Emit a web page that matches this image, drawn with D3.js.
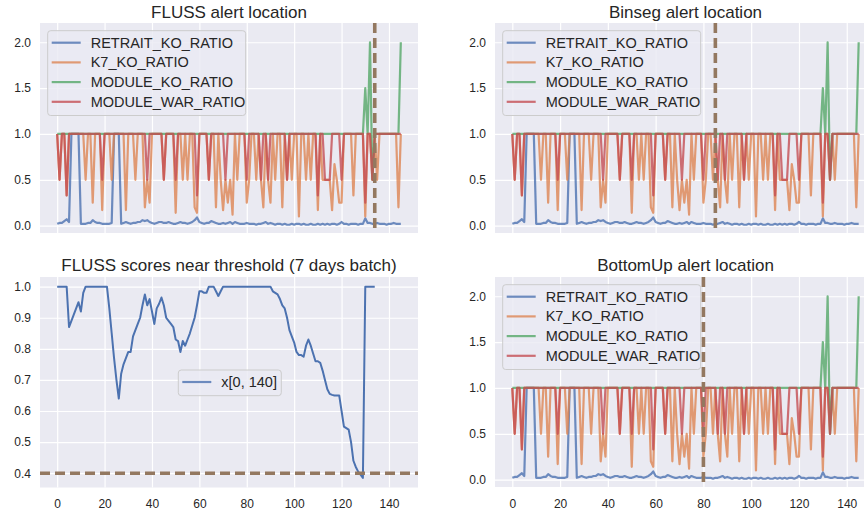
<!DOCTYPE html>
<html>
<head>
<meta charset="utf-8">
<script src="https://cdn.jsdelivr.net/npm/d3@7"></script>
<style>
  body { margin: 0; background: #fff; overflow: hidden; }
  text { font-family: "Liberation Sans", Arial, sans-serif; fill: #262626; }
</style>
</head>
<body>
<script>
// ratio series, one value per day (x = 0..145)
const retraitKo = [
  0.02, 0.03, 0.03, 0.05, 0.07, 0.04, 1.0, 1.0, 1.0, 1.0,
  0.02, 0.02, 0.02, 0.03, 0.03, 0.06, 0.04, 0.03, 0.03, 0.02,
  0.02, 0.02, 0.02, 0.03, 1.0, 1.0, 1.0, 0.02, 0.03, 0.04,
  0.03, 0.02, 0.03, 0.03, 0.04, 0.04, 0.06, 0.05, 0.06, 0.04,
  0.03, 0.02, 0.03, 0.04, 0.04, 0.03, 0.03, 0.04, 0.03, 0.02,
  0.02, 0.03, 0.04, 0.03, 0.03, 0.02, 0.03, 0.04, 0.06, 0.09,
  0.04, 0.03, 0.02, 0.03, 0.03, 0.05, 0.04, 0.03, 0.02, 0.02,
  0.03, 0.02, 0.03, 0.04, 0.02, 0.04, 0.03, 0.02, 0.02, 0.02,
  0.03, 0.02, 0.02, 0.02, 0.01, 0.02, 0.02, 0.03, 0.04, 0.02,
  0.03, 0.02, 0.01, 0.02, 0.02, 0.01, 0.02, 0.01, 0.01, 0.02,
  0.01, 0.02, 0.02, 0.01, 0.02, 0.01, 0.01, 0.02, 0.01, 0.01,
  0.02, 0.01, 0.02, 0.01, 0.02, 0.01, 0.02, 0.02, 0.01, 0.02,
  0.04, 0.02, 0.02, 0.01, 0.02, 0.02, 0.02, 0.01, 0.02, 0.02,
  0.08, 0.03, 0.03, 0.02, 0.02, 0.03, 0.02, 0.02, 0.02, 0.01,
  0.02, 0.02, 0.03, 0.02, 0.02, 0.02
];
const k7Ko = [
  1, 0.5, 1, 1, 0.33, 1, 1, 1, 1, 1,
  1, 1, 0.5, 1, 1, 0.25, 1, 1, 1, 0.17,
  1, 1, 1, 0.5, 1, 1, 1, 1, 1, 0.17,
  1, 1, 1, 0.5, 1, 1, 1, 0.2, 0.5, 0.25,
  1, 1, 1, 1, 1, 0.5, 1, 1, 1, 1,
  0.14, 1, 1, 0.5, 1, 0.5, 1, 1, 0.2, 0.14,
  1, 1, 1, 1, 0.5, 1, 1, 0.2, 1, 0.5,
  0.17, 0.5, 0.25, 0.5, 0.12, 1, 0.5, 1, 1, 1,
  0.25, 0.5, 1, 1, 0.5, 1, 0.5, 0.2, 1, 0.5,
  0.25, 1, 0.5, 1, 1, 0.2, 1, 0.5, 1, 0.5,
  1, 1, 0.1, 1, 1, 0.5, 1, 0.5, 1, 1,
  0.17, 1, 0.5, 0.5, 0.5, 0.5, 0.17, 0.67, 0.5, 0.25,
  0.25, 1, 1, 1, 1, 0.33, 1, 1, 1, 1,
  0.1, 1, 1, 0.5, 1, 0.5, 1, 1, 1, 1,
  1, 1, 1, 1, 0.2, 1
];
const moduleKo = [
  1, 1, 1, 1, 1, 1, 1, 1, 1, 1,
  1, 1, 1, 1, 1, 1, 1, 1, 1, 1,
  1, 1, 1, 1, 1, 1, 1, 1, 1, 1,
  1, 1, 1, 1, 1, 1, 1, 1, 1, 1,
  1, 1, 1, 1, 1, 1, 1, 1, 1, 1,
  1, 1, 1, 1, 1, 1, 1, 1, 1, 1,
  1, 1, 1, 1, 1, 1, 1, 1, 1, 1,
  1, 1, 1, 1, 1, 1, 1, 1, 1, 1,
  1, 1, 1, 1, 1, 1, 1, 1, 1, 1,
  1, 1, 1, 1, 1, 1, 1, 1, 1, 1,
  1, 1, 1, 1, 1, 1, 1, 1, 1, 1,
  1, 1, 1, 1, 1, 1, 1, 1, 1, 1,
  1, 1, 1, 1, 1, 1, 1, 1, 1, 1,
  1.5, 1, 2, 0.5, 1, 1, 1, 1, 1, 1,
  1, 1, 1, 1, 1, 2
];
const moduleWar = [
  1, 0.5, 1, 1, 0.33, 1, 1, 1, 1, 1,
  1, 1, 1, 1, 1, 1, 1, 1, 1, 0.5,
  1, 1, 1, 1, 1, 1, 1, 1, 1, 1,
  1, 1, 1, 1, 1, 1, 1, 1, 0.5, 1,
  1, 1, 1, 1, 1, 0.5, 1, 1, 1, 1,
  0.5, 1, 1, 1, 1, 1, 1, 1, 1, 0.33,
  1, 1, 1, 1, 0.5, 1, 1, 1, 1, 1,
  1, 0.5, 1, 1, 1, 1, 1, 1, 1, 1,
  0.5, 1, 1, 1, 1, 1, 0.5, 1, 1, 0.5,
  1, 1, 1, 1, 1, 1, 1, 0.5, 1, 1,
  1, 1, 1, 1, 1, 1, 1, 1, 1, 1,
  0.33, 1, 1, 0.5, 0.5, 0.5, 1, 1, 1, 1,
  0.5, 1, 1, 1, 1, 1, 1, 1, 1, 1,
  0.25, 1, 1, 0.5, 1, 1, 1, 1, 1, 1,
  1, 1, 1, 1, 1, 1
];

// FLUSS scores, x = 0..134
const flussScores = [
  1.0, 1.0, 1.0, 1.0, 1.0, 0.87, 0.89, 0.91, 0.93, 0.95,
  0.92, 0.98, 1.0, 1.0, 1.0, 1.0, 1.0, 1.0, 1.0, 1.0,
  1.0, 1.0, 0.93, 0.85, 0.77, 0.70, 0.64, 0.72, 0.75, 0.77,
  0.79, 0.79, 0.84, 0.86, 0.88, 0.90, 0.94, 0.975, 0.94, 0.96,
  0.92, 0.88, 0.93, 0.945, 0.965, 0.94, 0.90, 0.89, 0.88, 0.87,
  0.83, 0.825, 0.79, 0.825, 0.81, 0.83, 0.85, 0.875, 0.90, 0.94,
  0.985, 0.985, 0.98, 0.98, 1.0, 1.0, 1.0, 0.985, 0.97, 0.985,
  1.0, 1.0, 1.0, 1.0, 1.0, 1.0, 1.0, 1.0, 1.0, 1.0,
  1.0, 1.0, 1.0, 1.0, 1.0, 1.0, 1.0, 1.0, 1.0, 1.0,
  1.0, 0.985, 0.98, 0.975, 0.96, 0.94, 0.93, 0.90, 0.86, 0.84,
  0.82, 0.79, 0.78, 0.78, 0.775, 0.81, 0.83, 0.81, 0.785, 0.76,
  0.76, 0.755, 0.73, 0.70, 0.67, 0.655, 0.652, 0.65, 0.65, 0.65,
  0.60, 0.55, 0.545, 0.54, 0.50, 0.44, 0.42, 0.405, 0.395, 0.385,
  1.0, 1.0, 1.0, 1.0, 1.0
];

const seriesNames = ["RETRAIT_KO_RATIO", "K7_KO_RATIO", "MODULE_KO_RATIO", "MODULE_WAR_RATIO"];
const seriesValues = [retraitKo, k7Ko, moduleKo, moduleWar];
const seriesColors = ["#4c72b0", "#dd8452", "#55a868", "#c44e52"];
const scoreLabel = "x[0, 140]";

const flussAlert = 134;
const binsegAlert = 85;
const bottomUpAlert = 80;
const threshold = 0.4;

const xTicks = [0, 20, 40, 60, 80, 100, 120, 140];
const ratioTicks = [0, 0.5, 1.0, 1.5, 2.0];
const scoreTicks = [0.4, 0.5, 0.6, 0.7, 0.8, 0.9, 1.0];

const brown = "#937860";

let svg = d3.select("body").append("svg").attr("width", 864).attr("height", 514);

// one subplot: background, grid, tick labels, title
function panel(opt) {
  let g = svg.append("g").attr("transform", "translate(" + opt.left + "," + opt.top + ")");
  let x = d3.scaleLinear().domain([-7.25, 152.25]).range([0, opt.width]);
  let y = d3.scaleLinear().domain(opt.yDomain).range([opt.height, 0]);

  g.append("rect").attr("width", opt.width).attr("height", opt.height).attr("fill", "#eaeaf2");

  let gx = g.append("g").attr("transform", "translate(0," + opt.height + ")")
    .call(d3.axisBottom(x).tickValues(xTicks).tickSize(-opt.height).tickPadding(12)
      .tickFormat(opt.showX ? d3.format("d") : ""));
  let gy = g.append("g")
    .call(d3.axisLeft(y).tickValues(opt.yTicks).tickSize(-opt.width).tickPadding(9)
      .tickFormat(d3.format(".1f")));
  [gx, gy].forEach((a) => {
    a.select(".domain").remove();
    a.selectAll("line").attr("stroke", "#fff").attr("stroke-width", 1.2);
    a.selectAll("text").attr("font-size", 12).attr("fill", "#262626")
      .style("font-family", '"Liberation Sans", Arial, sans-serif');
  });

  svg.append("text").attr("x", opt.left + opt.width / 2).attr("y", opt.titleY)
    .attr("text-anchor", "middle").attr("font-size", 17).text(opt.title);

  let clipId = "clip" + Math.round(opt.left) + "_" + Math.round(opt.top);
  g.append("clipPath").attr("id", clipId).append("rect")
    .attr("width", opt.width).attr("height", opt.height);
  let plot = g.append("g").attr("clip-path", "url(#" + clipId + ")");
  return { g: g, plot: plot, x: x, y: y, w: opt.width, h: opt.height };
}

function legend(p, lx, ly, names, colors, rowH) {
  let lg = p.g.append("g").attr("transform", "translate(" + lx + "," + ly + ")");
  let boxW = names.length > 1 ? 198 : 103;
  let boxH = names.length * rowH + 6;
  lg.append("rect").attr("width", boxW).attr("height", boxH).attr("rx", 3)
    .attr("fill", "#eaeaf2").attr("fill-opacity", 0.8)
    .attr("stroke", "#cccccc").attr("stroke-width", 1);
  names.forEach((n, i) => {
    let cy = 12 + i * rowH;
    lg.append("line").attr("x1", 4).attr("x2", 33).attr("y1", cy).attr("y2", cy)
      .attr("stroke", colors[i]).attr("stroke-width", 2.2).attr("stroke-opacity", 0.8);
    lg.append("text").attr("x", 43).attr("y", cy + 5).attr("font-size", 14.5).text(n);
  });
}

function ratioPanel(left, top, width, title, titleY, alertX, showX) {
  let p = panel({ left: left, top: top, width: width, height: 210, yDomain: [-0.08, 2.21],
    yTicks: ratioTicks, showX: showX, title: title, titleY: titleY });
  let line = d3.line().x((d, i) => p.x(i)).y((d) => p.y(d));
  seriesValues.forEach((vals, k) => {
    p.plot.append("path").attr("d", line(vals)).attr("fill", "none")
      .attr("stroke", seriesColors[k]).attr("stroke-width", 2.2).attr("stroke-opacity", 0.8)
      .attr("stroke-linejoin", "round");
  });
  p.plot.append("line").attr("x1", p.x(alertX)).attr("x2", p.x(alertX))
    .attr("y1", 0).attr("y2", p.h).attr("stroke", brown).attr("stroke-width", 3.6)
    .attr("stroke-dasharray", "10,5");
  legend(p, 7.7, 7.7, seriesNames, seriesColors, 19.7);
  return p;
}

ratioPanel(40, 23, 378, "FLUSS alert location", 17.5, flussAlert, false);
ratioPanel(495, 23, 381, "Binseg alert location", 17.5, binsegAlert, false);
ratioPanel(495, 277, 381, "BottomUp alert location", 270.7, bottomUpAlert, true);

// FLUSS scores panel
let sp = panel({ left: 40, top: 277, width: 378, height: 210.5, yDomain: [0.354, 1.031],
  yTicks: scoreTicks, showX: true, title: "FLUSS scores near threshold (7 days batch)", titleY: 270.7 });
let scoreLine = d3.line().x((d, i) => sp.x(i)).y((d) => sp.y(d));
sp.plot.append("path").attr("d", scoreLine(flussScores)).attr("fill", "none")
  .attr("stroke", seriesColors[0]).attr("stroke-width", 2).attr("stroke-linejoin", "round");
sp.plot.append("line").attr("x1", 0).attr("x2", sp.w).attr("y1", sp.y(threshold)).attr("y2", sp.y(threshold))
  .attr("stroke", brown).attr("stroke-width", 3.6).attr("stroke-dasharray", "10,5");
legend(sp, 138.3, 93, [scoreLabel], [seriesColors[0]], 19.7);
</script>
</body>
</html>
